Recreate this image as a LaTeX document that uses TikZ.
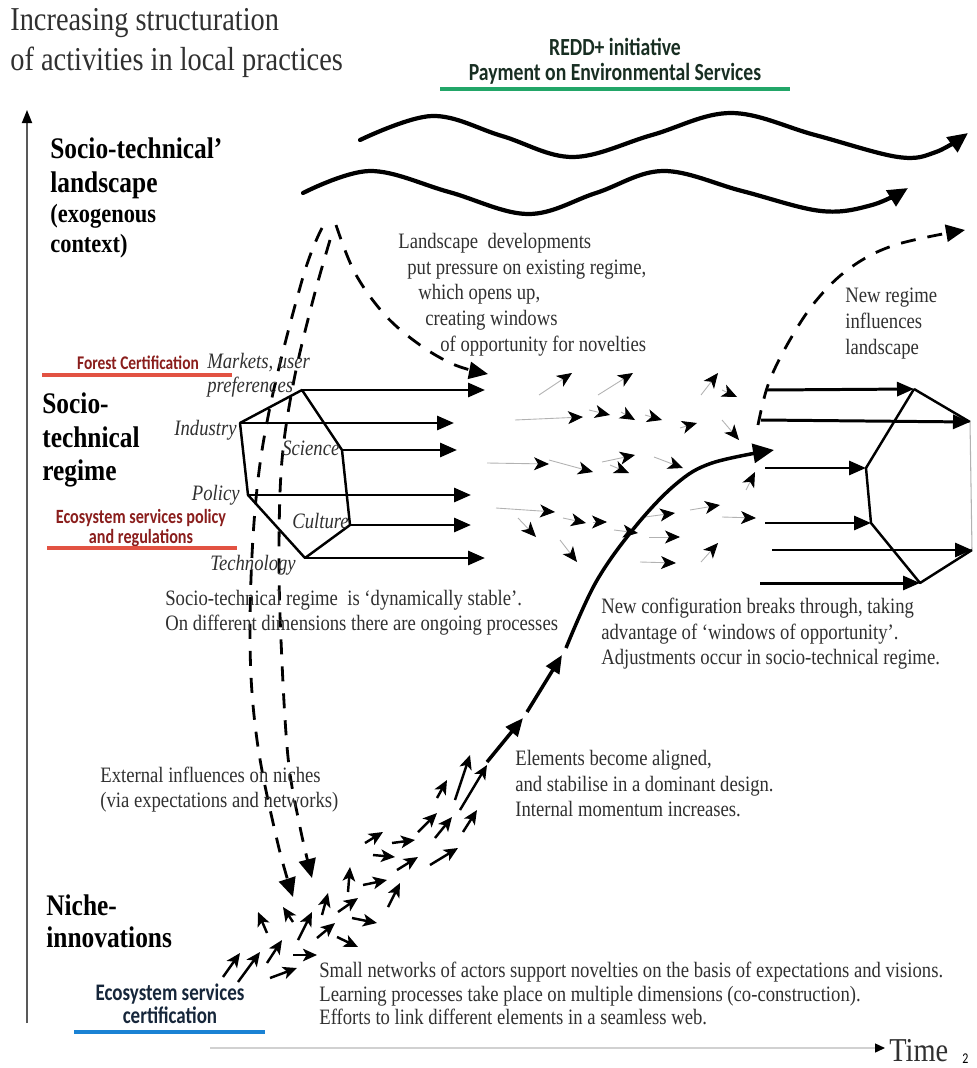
\documentclass[tikz,border=0pt]{standalone}
\usepackage{fontspec}
\setmainfont{Liberation Serif}[FakeStretch=0.85]
\newfontfamily\calfont{Carlito}[FakeStretch=0.8]
\usepackage{xcolor}
\usetikzlibrary{arrows.meta}

\definecolor{reddline}{RGB}{34,166,104}
\definecolor{reddtext}{RGB}{24,46,34}
\definecolor{certline}{RGB}{226,82,66}
\definecolor{certtext}{RGB}{138,30,28}
\definecolor{escline}{RGB}{26,130,212}
\definecolor{esctext}{RGB}{22,38,58}
\definecolor{bodygray}{RGB}{48,48,48}

\begin{document}
\begin{tikzpicture}[x=0.2mm, y=-0.2mm,
    bodytext/.style={font=\fontsize{12.5}{14.6}\selectfont, text=bodygray, align=left, inner sep=0pt, anchor=north west},
    dimtext/.style={font=\fontsize{12.5}{13.6}\selectfont\itshape, text=bodygray, inner sep=0pt},
    leveltext/.style={font=\fontsize{17}{19.8}\selectfont\bfseries, align=left, inner sep=0pt, anchor=north west},
    tagtext/.style={align=center, inner sep=0pt},
    tagline/.style={line width=2.3pt},
    axisline/.style={black!65, line width=1pt, -{Triangle[black, length=2.6mm, width=2mm]}},
    timeline/.style={black!18, line width=0.8pt, -{Triangle[black, length=2mm, width=1.8mm]}},
    regarrow/.style={line width=1.7pt, -{Triangle[length=3.4mm, width=2.8mm]}},
    hexedge/.style={line width=1.4pt, line join=round},
    windarrow/.style={black!30, line width=0.5pt, -{Stealth[black, length=3mm, width=2.6mm, inset=0.8mm]}},
    nichearrow/.style={line width=1.4pt, -{Stealth[length=2.8mm, width=2.5mm, inset=0.7mm]}},
    wave/.style={line width=2.4pt, line cap=round, -{Triangle[length=4mm, width=3.6mm]}},
    dasharrow/.style={line width=1.6pt, dash pattern=on 3mm off 2.4mm, -{Triangle[length=3.8mm, width=3.4mm]}},
    trajectory/.style={line width=2pt, -{Triangle[length=3.6mm, width=3mm]}},
]
    \useasboundingbox (0,0) rectangle (977,1068);

    % Axes
    \coordinate (vaxb) at (27,1023);
    \coordinate (vaxt) at (27,110);
    \draw[axisline] (vaxb) -- (vaxt);
    \coordinate (taxl) at (210,1048);
    \coordinate (taxr) at (885,1048);
    \draw[timeline] (taxl) -- (taxr);
    \node[font=\fontsize{19}{22}\selectfont, text=bodygray, anchor=base west, inner sep=0pt] (timelabel) at (889,1061) {Time};
    \node[font=\calfont\fontsize{8.5}{10}\selectfont, anchor=base west, inner sep=0pt] (pagenum) at (962,1063) {2};

    % Title and level names
    \node[font=\fontsize{19}{22.7}\selectfont, text=bodygray, align=left, anchor=north west, inner sep=0pt] (title) at (10,8) {Increasing structuration\\of activities in local practices};
    \node[leveltext] (lscname) at (50,137) {Socio-technical’\\landscape};
    \node[leveltext, font=\fontsize{15}{17}\selectfont\bfseries] (lscsub) at (50,204) {(exogenous\\context)};
    \node[leveltext, font=\fontsize{17}{19.3}\selectfont\bfseries] (regname) at (42,392) {Socio-\\technical\\regime};
    \node[leveltext, font=\fontsize{17}{18.7}\selectfont\bfseries] (nichename) at (46,894) {Niche-\\innovations};

    % Coloured tags
    \node[tagtext, text=reddtext, font=\calfont\bfseries\fontsize{14}{14.2}\selectfont] (redd) at (615,61) {REDD+ initiative\\Payment on Environmental Services};
    \draw[tagline, reddline] (440,89) -- (790,89);
    \node[tagtext, text=certtext, font=\calfont\bfseries\fontsize{11}{12}\selectfont] (forestcert) at (138,363) {Forest Certification};
    \draw[tagline, certline] (42,375) -- (232,375);
    \node[tagtext, text=certtext, font=\calfont\bfseries\fontsize{11.5}{11.6}\selectfont] (espolicy) at (141,528) {Ecosystem services policy\\and regulations};
    \draw[tagline, certline] (47,548) -- (237,548);
    \node[tagtext, text=esctext, font=\calfont\bfseries\fontsize{13.5}{13}\selectfont] (escert) at (170,1004) {Ecosystem services\\certification};
    \draw[tagline, escline] (74,1032) -- (265,1032);

    % Landscape waves
    \draw[wave] plot[smooth, tension=0.6] coordinates {(360,140) (432,116) (502,136) (573,157) (652,135) (731,113) (815,135) (898,157) (936,152) (968,133)};
    \draw[wave] plot[smooth, tension=0.6] coordinates {(303,193) (370,171) (449,192) (528,214) (596,193) (663,171) (742,191) (821,211) (872,205) (908,188)};

    % Dashed influences
    \draw[dasharrow] plot[smooth, tension=0.6] coordinates {(322,228) (303,277) (270,407) (255,510) (250,640) (257,740) (277,840) (293,897)};
    \draw[dasharrow] plot[smooth, tension=0.6] coordinates {(330,240) (313,300) (294,380) (282,460) (279,550) (281,640) (288,757) (300,827) (312,878)};
    \draw[dasharrow] plot[smooth, tension=0.6] coordinates {(336,225) (355,273) (385,315) (420,345) (455,365) (488,374)};
    \draw[dasharrow] plot[smooth, tension=0.6] coordinates {(758,425) (768,385) (787,345) (815,302) (850,268) (895,245) (965,230)};

    % Regime (left)
    \coordinate (lt) at (302,390);
    \coordinate (lsc) at (342,450);
    \coordinate (lcu) at (350,525);
    \coordinate (lb) at (305,558);
    \coordinate (lpo) at (248,495);
    \coordinate (lin) at (240,423);
    \coordinate (lt-e) at (485,390);
    \coordinate (lin-e) at (454,423);
    \coordinate (lsc-e) at (457,450);
    \coordinate (lpo-e) at (471,495);
    \coordinate (lcu-e) at (471,525);
    \coordinate (lb-e) at (485,558);
    \foreach \v in {lt,lin,lsc,lpo,lcu,lb}
        \draw[regarrow] (\v) -- (\v-e);
    \draw[hexedge] (lt) -- (lsc) -- (lcu) -- (lb) -- (lpo) -- (lin) -- cycle;

    \node[dimtext, align=left, anchor=north west] (mkts) at (207,353) {Markets, user\\preferences};
    \node[dimtext, anchor=base east] (industry) at (237,435) {Industry};
    \node[dimtext, anchor=base west] (science) at (282,455) {Science};
    \node[dimtext, anchor=base east] (policy) at (240,500) {Policy};
    \node[dimtext, anchor=base west] (culture) at (292,528) {Culture};
    \node[dimtext, anchor=base west] (techno) at (210,570) {Technology};

    % Windows of opportunity
    \foreach \xa/\ya/\xb/\yb in {539/395/572/373, 598/395/633/373, 701/395/718/373, 722/390/737/397,
        515/420/583/417, 589/410/610/415, 621/412/635/420, 645/415/662/420, 680/428/697/423, 722/420/739/440,
        487/463/549/464, 549/460/593/472, 602/462/635/455, 610/465/629/473, 654/457/683/468, 746/490/755/472,
        496/508/555/512, 563/518/586/523, 593/522/607/522, 518/518/536/537, 560/540/577/562, 614/530/638/533,
        645/517/675/513, 690/510/720/505, 722/517/756/518, 649/537/680/537, 640/562/676/563, 701/562/718/543}
        \draw[windarrow] (\xa,\ya) -- (\xb,\yb);

    % Regime (right)
    \coordinate (rt) at (914,389);
    \coordinate (rur) at (970,422);
    \coordinate (rlr) at (972,550);
    \coordinate (rb) at (920,583);
    \coordinate (rll) at (871,523);
    \coordinate (rul) at (866,468);
    \coordinate (rt-s) at (767,390);
    \coordinate (rur-s) at (761,420);
    \coordinate (rul-s) at (765,468);
    \coordinate (rll-s) at (765,523);
    \coordinate (rlr-s) at (772,550);
    \coordinate (rb-s) at (760,583);
    \foreach \v in {rt,rur,rul,rll,rlr,rb}
        \draw[regarrow] (\v-s) -- (\v);
    \draw[hexedge] (rt) -- (rur);
    \draw[black!30, line width=0.6pt] (rur) -- (rlr);
    \draw[hexedge] (rlr) -- (rb) -- (rll) -- (rul) -- (rt);

    % Niche cluster
    \foreach \xa/\ya/\xb/\yb in {223/977/240/953, 238/982/260/952, 267/963/282/940, 270/978/297/968,
        293/955/317/955, 298/940/312/912, 267/933/258/912, 293/922/283/907, 317/938/335/923, 337/937/358/947,
        322/915/328/893, 338/912/358/898, 352/918/377/923, 348/892/350/867, 363/885/387/880, 388/907/400/883,
        365/843/383/832, 373/855/395/857, 392/843/415/840, 397/870/418/857, 430/865/458/848, 418/832/437/813,
        435/838/452/817, 463/832/477/810, 437/798/447/780, 455/800/470/755, 460/810/487/765}
        \draw[nichearrow] (\xa,\ya) -- (\xb,\yb);

    % Breakthrough trajectory
    \coordinate (tr0) at (487,762);
    \coordinate (tr1) at (523,718);
    \coordinate (tr2) at (527,712);
    \coordinate (tr3) at (562,655);
    \draw[trajectory] (tr0) -- (tr1);
    \draw[trajectory] (tr2) -- (tr3);
    \draw[trajectory, -{Triangle[length=4.2mm, width=3.8mm]}] plot[smooth, tension=0.6] coordinates {(566,648) (596,582) (635,527) (676,484) (712,463) (774,450)};

    % Explanations
    \node[bodytext] (lscdev) at (398,233) {Landscape\ \ developments\\\hspace*{1.8mm}put pressure on existing regime,\\\hspace*{4mm}which opens up,\\\hspace*{5.4mm}creating windows\\\hspace*{8.4mm}of opportunity for novelties};
    \node[bodytext] (newregime) at (845,288) {New regime\\influences\\landscape};
    \node[bodytext, font=\fontsize{12.5}{14}\selectfont] (stable) at (165,590) {Socio-technical regime\ \ is ‘dynamically stable’.\\On different dimensions there are ongoing processes};
    \node[bodytext, font=\fontsize{12.5}{14.4}\selectfont] (breakthrough) at (601,598) {New configuration breaks through, taking\\advantage of ‘windows of opportunity’.\\Adjustments occur in socio-technical regime.};
    \node[bodytext] (aligned) at (515,750) {Elements become aligned,\\and stabilise in a dominant design.\\Internal momentum increases.};
    \node[bodytext, font=\fontsize{12.5}{14}\selectfont] (external) at (100,767) {External influences on niches\\(via expectations and networks)};
    \node[bodytext, font=\fontsize{12.5}{13.4}\selectfont] (smallnet) at (319,962) {Small networks of actors support novelties on the basis of expectations and visions.\\Learning processes take place on multiple dimensions (co-construction).\\Efforts to link different elements in a seamless web.};
\end{tikzpicture}
\end{document}
